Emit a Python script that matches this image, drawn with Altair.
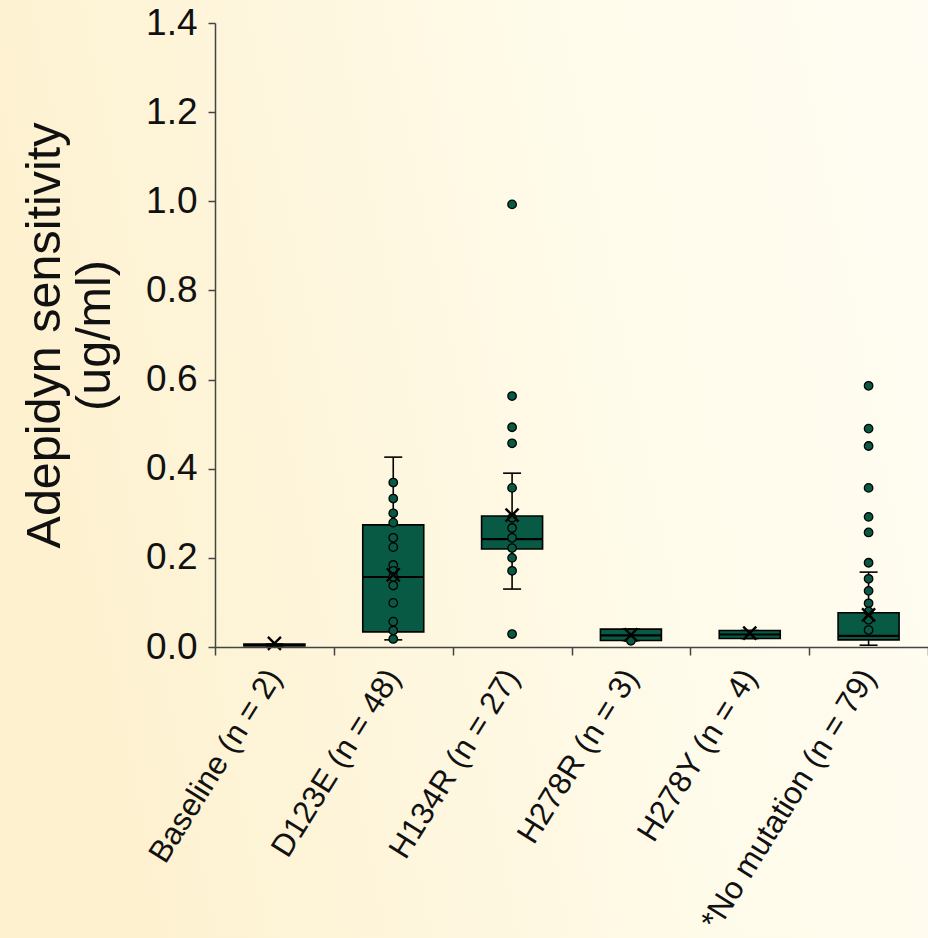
import altair as alt
import pandas as pd

categories = ["Baseline (n = 2)", "D123E (n = 48)", "H134R (n = 27)",
              "H278R (n = 3)", "H278Y (n = 4)", "*No mutation (n = 79)"]
q1 = [0.0025, 0.034, 0.220, 0.0145, 0.019, 0.016]
median = [0.0045, 0.157, 0.242, 0.026, 0.028, 0.025]
q3 = [0.0065, 0.274, 0.294, 0.040, 0.037, 0.077]
whisker_lo = [0.0025, 0.016, 0.130, 0.0145, 0.019, 0.004]
whisker_hi = [0.0065, 0.426, 0.390, 0.040, 0.037, 0.168]
mean = [0.008, 0.162, 0.296, 0.027, 0.031, 0.072]

pts_d123e = [0.369, 0.333, 0.300, 0.279, 0.245, 0.224, 0.184, 0.171, 0.157,
             0.138, 0.099, 0.057, 0.037, 0.018]
pts_h134r = [0.993, 0.563, 0.493, 0.457, 0.357, 0.290, 0.267, 0.245, 0.222,
             0.200, 0.171, 0.029]
pts_h278r = [0.014]
pts_nomut = [0.586, 0.490, 0.451, 0.357, 0.292, 0.257, 0.189, 0.153, 0.126,
             0.098, 0.080, 0.061, 0.038]

y_ticks = [0.0, 0.2, 0.4, 0.6, 0.8, 1.0, 1.2, 1.4]

summary = pd.DataFrame({"category": categories, "q1": q1, "median": median,
                        "q3": q3, "wlo": whisker_lo, "whi": whisker_hi, "mean": mean})
points = pd.DataFrame({
    "category": [categories[1]] * len(pts_d123e) + [categories[2]] * len(pts_h134r)
    + [categories[3]] * len(pts_h278r) + [categories[5]] * len(pts_nomut),
    "value": pts_d123e + pts_h134r + pts_h278r + pts_nomut,
})

W, H = 713, 624
FONT = "Liberation Sans"
BOX = "#085a45"

x_axis = alt.Axis(labelAngle=302, labelAlign="right", labelBaseline="middle",
                  labelFontSize=31.5, labelFont=FONT, labelColor="#111",
                  labelPadding=17, tickBand="extent", tickSize=8, tickWidth=1.5,
                  tickColor="#444", domainColor="#444", domainWidth=1.5,
                  title=None, labelLimit=500, zindex=1)
x_enc = alt.X("category:N", sort=categories,
              scale=alt.Scale(domain=categories, paddingInner=0, paddingOuter=0),
              axis=x_axis)

y_axis = alt.Axis(values=y_ticks, format=".1f", labelFontSize=37, labelFont=FONT,
                  labelColor="#111", labelPadding=11, tickSize=7, tickWidth=1.5,
                  tickColor="#444", domainColor="#444", domainWidth=1.5, grid=False,
                  title=["Adepidyn sensitivity", "(ug/ml)"], titleFontSize=48.5,
                  titleFont=FONT, titleFontWeight="normal", titleColor="#111",
                  titlePadding=26, titleLineHeight=50, zindex=1)
y_scale = alt.Scale(domain=[0, 1.4], nice=False, zero=True)


def y_enc(field):
    return alt.Y(f"{field}:Q", scale=y_scale, axis=y_axis)


bg = alt.Chart(pd.DataFrame({"a": [0]})).mark_rect(
    fill=alt.Gradient(gradient="linear", x1=0, x2=1, y1=0.2, y2=0,
                      stops=[alt.GradientStop(color="#fdf1d0", offset=0),
                             alt.GradientStop(color="#fffbea", offset=0.6),
                             alt.GradientStop(color="#fffdf3", offset=1)])
).encode(x=alt.value(-215), x2=alt.value(W), y=alt.value(-23), y2=alt.value(H + 291))

base = alt.Chart(summary)
whisker = base.mark_rule(color="black", strokeWidth=1.6).encode(
    x=x_enc, y=y_enc("wlo"), y2="whi:Q")
cap_lo = base.mark_tick(color="black", size=18, thickness=1.6, opacity=1).encode(
    x=x_enc, y=y_enc("wlo"))
cap_hi = base.mark_tick(color="black", size=18, thickness=1.6, opacity=1).encode(
    x=x_enc, y=y_enc("whi"))
box = base.mark_bar(size=61, fill=BOX, stroke="black", strokeWidth=1.6, opacity=1).encode(
    x=x_enc, y=y_enc("q1"), y2="q3:Q")
med = base.mark_tick(color="black", size=61, thickness=2.2, opacity=1).encode(
    x=x_enc, y=y_enc("median"))
dots = alt.Chart(points).mark_circle(color=BOX, stroke="black", strokeWidth=1.3,
                                     size=72, opacity=1).encode(
    x=x_enc, y=y_enc("value"))
mean_mark = base.mark_point(shape="M-1,-1L1,1M-1,1L1,-1", filled=False, stroke="black",
                            strokeWidth=2.4, size=170, opacity=1).encode(
    x=x_enc, y=y_enc("mean"))

chart = alt.layer(bg, whisker, cap_lo, cap_hi, box, med, dots, mean_mark).properties(
    width=W, height=H,
    padding={"left": 215, "top": 23, "right": 0, "bottom": 291},
    autosize=alt.AutoSizeParams(type="none"),
    background="#fef8e4",
).configure_view(strokeWidth=0)

chart.save("out.html", embed_options={"renderer": "svg", "actions": False})
